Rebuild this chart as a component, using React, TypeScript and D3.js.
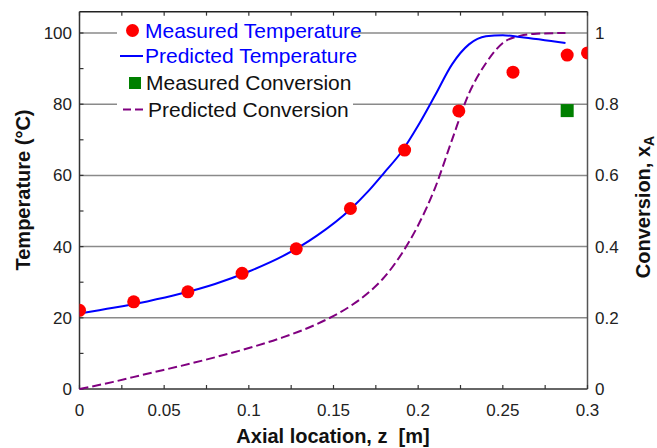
import React from "react";
import * as d3 from "d3";

// Measured temperature along the reactor
const zMeasured = [0, 0.032, 0.064, 0.096, 0.128, 0.16, 0.192, 0.224, 0.256, 0.288, 0.3];
const tempMeasured = [22.1, 24.5, 27.3, 32.5, 39.4, 50.7, 67.1, 78.1, 89.0, 93.8, 94.4];

// Measured conversion at the outlet
const zConvMeasured = [0.288];
const convMeasured = [0.782];

// Model prediction: temperature
const zPredTemp = [0, 0.02, 0.04, 0.06, 0.08, 0.1, 0.12, 0.14, 0.16, 0.17, 0.18, 0.19, 0.2, 0.21, 0.22, 0.23, 0.24, 0.25, 0.26, 0.287];
const tempPred = [21.2, 22.8, 24.6, 26.8, 29.5, 33.0, 37.3, 43.0, 50.5, 55.3, 60.8, 66.5, 74.0, 82.5, 91.2, 96.8, 99.1, 99.4, 98.9, 97.2];

// Model prediction: conversion
const zPredConv = [0, 0.02, 0.04, 0.06, 0.08, 0.1, 0.12, 0.14, 0.16, 0.17, 0.18, 0.19, 0.2, 0.21, 0.22, 0.23, 0.24, 0.25, 0.26, 0.27, 0.287];
const convPred = [0, 0.02, 0.043, 0.065, 0.089, 0.115, 0.145, 0.182, 0.233, 0.268, 0.314, 0.378, 0.46, 0.565, 0.7, 0.83, 0.915, 0.972, 0.992, 0.998, 1.0];

// Axis ticks
const xTickValues = [0, 0.05, 0.1, 0.15, 0.2, 0.25, 0.3];
const xTickLabels = ["0", "0.05", "0.1", "0.15", "0.2", "0.25", "0.3"];
const tempTickValues = [0, 20, 40, 60, 80, 100];
const tempTickLabels = ["0", "20", "40", "60", "80", "100"];
const convTickValues = [0, 0.2, 0.4, 0.6, 0.8, 1];
const convTickLabels = ["0", "0.2", "0.4", "0.6", "0.8", "1"];

const legendLabels = ["Measured Temperature", "Predicted Temperature", "Measured Conversion", "Predicted Conversion"];

const W = 657;
const H = 448;
const left = 79.5;
const right = 587.5;
const bottom = 389;
const font = "'Liberation Sans', Arial, Helvetica, sans-serif";

export default function App() {
  const x = d3.scaleLinear().domain([0, 0.3]).range([left, right]);
  const yT = d3.scaleLinear().domain([0, 106]).range([bottom, bottom - 106 * 3.56]);
  const yC = d3.scaleLinear().domain([0, 1.06]).range([bottom, bottom - 106 * 3.56]);
  const top = yT(106);

  const tempLine = d3
    .line<number>()
    .x((_, i) => x(zPredTemp[i]))
    .y((d) => yT(d))
    .curve(d3.curveMonotoneX)(tempPred) as string;

  const convLine = d3
    .line<number>()
    .x((_, i) => x(zPredConv[i]))
    .y((d) => yC(d))
    .curve(d3.curveMonotoneX)(convPred) as string;

  const minorX = d3.range(0, 0.3001, 0.025);
  const minorT = d3.range(0, 100.01, 10);

  const legendRows = [30.5, 56, 83, 109.5];

  return (
    <svg
      width={W}
      height={H}
      style={{ position: "absolute", left: 0, top: 0, background: "#fff" }}
      fontFamily={font}
    >
      <defs>
        <clipPath id="plotClip">
          <rect x={left} y={top} width={right - left} height={bottom - top} />
        </clipPath>
      </defs>
      <rect x={0} y={0} width={W} height={H} fill="#fff" />

      {/* horizontal grid */}
      {tempTickValues.slice(1).map((v) => (
        <line key={v} x1={left} x2={right} y1={yT(v)} y2={yT(v)} stroke="#8a8a8a" strokeWidth={1.5} />
      ))}

      {/* legend backdrop */}
      <rect x={117} y={20} width={236} height={100} fill="#fff" />

      {/* frame and ticks */}
      <line x1={left} x2={right} y1={top} y2={top} stroke="#222" strokeWidth={1.5} />
      <line x1={left} x2={right} y1={bottom} y2={bottom} stroke="#333" strokeWidth={1.5} />
      <line x1={left} x2={left} y1={top} y2={bottom} stroke="#333" strokeWidth={1.5} />
      <line x1={right} x2={right} y1={top} y2={bottom} stroke="#555" strokeWidth={1.5} />
      {minorX.map((v) => (
        <g key={"tx" + v}>
          <line x1={x(v)} x2={x(v)} y1={bottom} y2={bottom - 4} stroke="#333" strokeWidth={1.2} />
          <line x1={x(v)} x2={x(v)} y1={top} y2={top + 4} stroke="#333" strokeWidth={1.2} />
        </g>
      ))}
      {minorT.map((v) => (
        <line key={"ty" + v} x1={left} x2={left + 4} y1={yT(v)} y2={yT(v)} stroke="#333" strokeWidth={1.2} />
      ))}

      {/* tick labels */}
      {xTickValues.map((v, i) => (
        <text key={"xl" + v} x={x(v)} y={416} fontSize={17} textAnchor="middle" fill="#222">
          {xTickLabels[i]}
        </text>
      ))}
      {tempTickValues.map((v, i) => (
        <text key={"yl" + v} x={72} y={yT(v) + 6} fontSize={17} textAnchor="end" fill="#222">
          {tempTickLabels[i]}
        </text>
      ))}
      {convTickValues.map((v, i) => (
        <text key={"cl" + v} x={595} y={yC(v) + 6} fontSize={17} textAnchor="start" fill="#222">
          {convTickLabels[i]}
        </text>
      ))}

      {/* axis titles */}
      <text
        x={333}
        y={443}
        fontSize={20}
        fontWeight="bold"
        textAnchor="middle"
        fill="#111"
        style={{ whiteSpace: "pre" }}
      >
        {"Axial location, z  [m]"}
      </text>
      <text
        transform={`translate(30,190) rotate(-90)`}
        fontSize={20}
        fontWeight="bold"
        textAnchor="middle"
        fill="#111"
      >
        Temperature (°C)
      </text>
      <text
        transform={`translate(650,207) rotate(-90)`}
        fontSize={20}
        fontWeight="bold"
        textAnchor="middle"
        fill="#111"
      >
        Conversion, x
        <tspan fontSize={14} dy={4}>A</tspan>
      </text>

      {/* series */}
      <path d={convLine} fill="none" stroke="#800080" strokeWidth={2} strokeDasharray="9,4" />
      <path d={tempLine} fill="none" stroke="#0000ff" strokeWidth={2} />
      <g clipPath="url(#plotClip)">
        {tempMeasured.map((t, i) => (
          <circle key={"m" + i} cx={x(zMeasured[i])} cy={yT(t)} r={6.5} fill="#ff0000" />
        ))}
        {convMeasured.map((c, i) => (
          <rect
            key={"c" + i}
            x={x(zConvMeasured[i]) - 6.5}
            y={yC(c) - 6.5}
            width={13}
            height={13}
            fill="#008000"
          />
        ))}
      </g>

      {/* legend */}
      <circle cx={132.5} cy={legendRows[0]} r={6.5} fill="#ff0000" />
      <line x1={120} x2={143} y1={legendRows[1]} y2={legendRows[1]} stroke="#0000ff" strokeWidth={2} />
      <rect x={129} y={legendRows[2] - 6} width={12} height={12} fill="#008000" />
      <line
        x1={123}
        x2={145}
        y1={legendRows[3]}
        y2={legendRows[3]}
        stroke="#800080"
        strokeWidth={2}
        strokeDasharray="8,4"
      />
      <text x={145} y={legendRows[0] + 7} fontSize={21} fill="#0000ff">{legendLabels[0]}</text>
      <text x={145} y={legendRows[1] + 7} fontSize={21} fill="#0000ff">{legendLabels[1]}</text>
      <text x={146} y={legendRows[2] + 7} fontSize={21} fill="#111">{legendLabels[2]}</text>
      <text x={148} y={legendRows[3] + 7} fontSize={21} fill="#111">{legendLabels[3]}</text>
    </svg>
  );
}
